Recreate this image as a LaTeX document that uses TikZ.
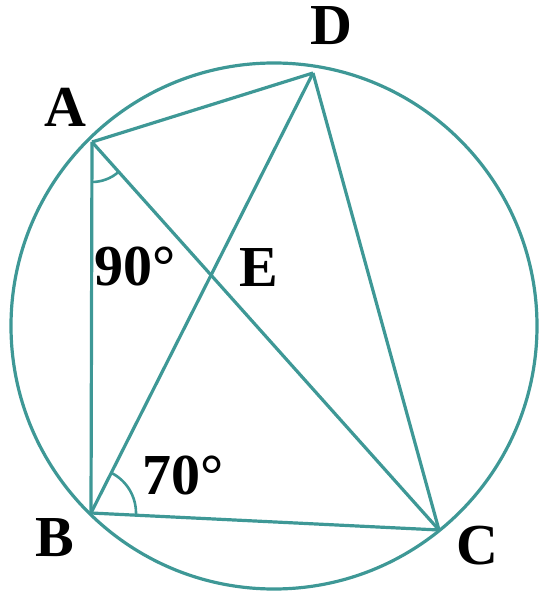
\documentclass[tikz,border=0pt]{standalone}
\usepackage{fontspec}
\setmainfont{Liberation Serif}
\usetikzlibrary{angles}
\definecolor{teal1}{RGB}{62,152,150}
\tikzset{
  geo/.style={draw=teal1, line width=3.2pt},
  lbl/.style={inner sep=0pt, font=\fontsize{58}{60}\selectfont\bfseries, text=black},
  angmark/.style={draw=teal1, line width=2.6pt}
}
\begin{document}
\begin{tikzpicture}[x=1pt,y=1pt]
\useasboundingbox (0,0) rectangle (542,595);
\coordinate (O) at (274,269);
\coordinate (A) at (92,453);
\coordinate (B) at (91,82);
\coordinate (C) at (439,65);
\coordinate (D) at (313,522);
\coordinate (E) at (intersection of A--C and B--D);
\draw[geo] (O) circle[radius=263];
\draw[geo] (A) -- (B);
\draw[geo] (A) -- (D);
\draw[geo] (D) -- (C);
\draw[geo] (B) -- (C);
\draw[geo] (A) -- (C);
\draw[geo] (B) -- (D);
\pic[angmark, angle radius=40pt] {angle = B--A--C};
\pic[angmark, angle radius=45pt] {angle = C--B--D};
\node[lbl] (lA) at (65,488) {A};
\node[lbl] (lB) at (55,57) {B};
\node[lbl] (lC) at (477,49) {C};
\node[lbl] (lD) at (331,569) {D};
\node[lbl] (lE) at (259,327) {E};
\node[lbl, anchor=west] (l90) at (94,329) {90°};
\node[lbl, anchor=west] (l70) at (142,120) {70°};
\end{tikzpicture}
\end{document}
